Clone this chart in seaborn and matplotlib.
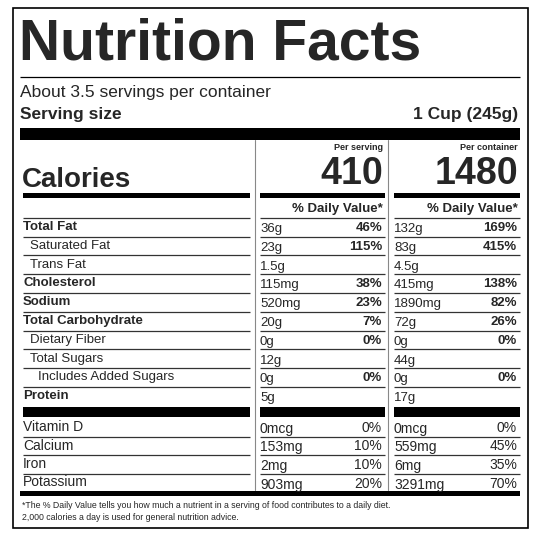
import matplotlib
matplotlib.use('Agg')
import matplotlib.pyplot as plt
import seaborn as sns

# label data
nutrients = ['Total Fat', 'Saturated Fat', 'Trans Fat', 'Cholesterol', 'Sodium',
             'Total Carbohydrate', 'Dietary Fiber', 'Total Sugars', 'Includes Added Sugars', 'Protein']
indent = [0, 1, 1, 0, 0, 0, 1, 1, 2, 0]
serv_amt = ['36g', '23g', '1.5g', '115mg', '520mg', '20g', '0g', '12g', '0g', '5g']
serv_pct = ['46%', '115%', '', '38%', '23%', '7%', '0%', '', '0%', '']
cont_amt = ['132g', '83g', '4.5g', '415mg', '1890mg', '72g', '0g', '44g', '0g', '17g']
cont_pct = ['169%', '415%', '', '138%', '82%', '26%', '0%', '', '0%', '']

vitamins = ['Vitamin D', 'Calcium', 'Iron', 'Potassium']
vit_serv_amt = ['0mcg', '153mg', '2mg', '903mg']
vit_serv_pct = ['0%', '10%', '10%', '20%']
vit_cont_amt = ['0mcg', '559mg', '6mg', '3291mg']
vit_cont_pct = ['0%', '45%', '35%', '70%']

calories_serving = '410'
calories_container = '1480'

sns.set_style('white')
plt.rcParams['font.family'] = ['Liberation Sans', 'DejaVu Sans']

fig = plt.figure(figsize=(5.4, 5.4), dpi=100)
ax = fig.add_axes([0, 0, 1, 1])
ax.set_xlim(0, 540)
ax.set_ylim(540, 0)
ax.axis('off')

def hline(y, x0, x1, lw=1.0, color='black'):
    ax.plot([x0, x1], [y, y], color=color, lw=lw, solid_capstyle='butt')

def bar(y0, y1, x0, x1):
    ax.fill_between([x0, x1], y0, y1, color='black', lw=0)

# border
ax.add_patch(plt.Rectangle((13, 8), 515, 520, fill=False, ec='black', lw=1.2))

ax.text(19, 45, 'Nutrition Facts', fontsize=41, fontweight='bold', va='center', ha='left')
hline(77, 20, 520, lw=0.9)
ax.text(20, 92, 'About 3.5 servings per container', fontsize=12.5, va='center')
ax.text(20, 114, 'Serving size', fontsize=12.5, fontweight='bold', va='center')
ax.text(518, 114, '1 Cup (245g)', fontsize=12.5, fontweight='bold', va='center', ha='right')
bar(128, 140, 20, 520)

# columns
c1l, c1r = 258, 385
c2l, c2r = 392, 520
L0, L1 = 20, 250
ax.plot([255, 255], [140, 490], color='#888888', lw=0.8)
ax.plot([388, 388], [140, 490], color='#888888', lw=0.8)

ax.text(c1r - 2, 148, 'Per serving', fontsize=6.5, fontweight='bold', ha='right', va='center')
ax.text(c2r - 2, 148, 'Per container', fontsize=6.5, fontweight='bold', ha='right', va='center')
ax.text(c1r - 2, 174, calories_serving, fontsize=27, fontweight='bold', ha='right', va='center')
ax.text(c2r - 2, 174, calories_container, fontsize=27, fontweight='bold', ha='right', va='center')
ax.text(22, 180, 'Calories', fontsize=20, fontweight='bold', va='center')
for a, b in [(L0 + 3, L1), (c1l + 2, c1r), (c2l + 2, c2r)]:
    bar(193, 198, a, b)
ax.text(c1r - 2, 209, '% Daily Value*', fontsize=9.5, fontweight='bold', ha='right', va='center')
ax.text(c2r - 2, 209, '% Daily Value*', fontsize=9.5, fontweight='bold', ha='right', va='center')

def seps(y, color='#333333'):
    hline(y, L0 + 3, L1, lw=0.9, color=color)
    hline(y, c1l + 2, c1r, lw=0.9, color=color)
    hline(y, c2l + 2, c2r, lw=0.9, color=color)

seps(218)
row_h = 18.8
y = 227
for i, name in enumerate(nutrients):
    bold = indent[i] == 0
    x = 23 if indent[i] == 0 else (30 if indent[i] == 1 else 38)
    ax.text(x, y, name, fontsize=9.5, fontweight='bold' if bold else 'normal', va='center')
    ax.text(c1l + 2, y + 2, serv_amt[i], fontsize=9.5, va='center')
    ax.text(c1r - 3, y + 1, serv_pct[i], fontsize=9.5, fontweight='bold', va='center', ha='right')
    ax.text(c2l + 2, y + 2, cont_amt[i], fontsize=9.5, va='center')
    ax.text(c2r - 3, y + 1, cont_pct[i], fontsize=9.5, fontweight='bold', va='center', ha='right')
    if i < len(nutrients) - 1:
        seps(y + 9.5)
    y += row_h

for a, b in [(L0 + 3, L1), (c1l + 2, c1r), (c2l + 2, c2r)]:
    bar(407, 417, a, b)

y = 427
for i, name in enumerate(vitamins):
    ax.text(23, y, name, fontsize=10, va='center')
    ax.text(c1l + 2, y + 2, vit_serv_amt[i], fontsize=10, va='center')
    ax.text(c1r - 3, y + 1, vit_serv_pct[i], fontsize=10, va='center', ha='right')
    ax.text(c2l + 2, y + 2, vit_cont_amt[i], fontsize=10, va='center')
    ax.text(c2r - 3, y + 1, vit_cont_pct[i], fontsize=10, va='center', ha='right')
    if i < len(vitamins) - 1:
        seps(y + 9.5)
    y += 18.5

bar(491, 496, 20, 520)
ax.text(22, 506, '*The % Daily Value tells you how much a nutrient in a serving of food contributes to a daily diet.',
        fontsize=6.3, va='center')
ax.text(22, 517, '2,000 calories a day is used for general nutrition advice.', fontsize=6.3, va='center')

fig.savefig('out.png', dpi=100, facecolor='white')
